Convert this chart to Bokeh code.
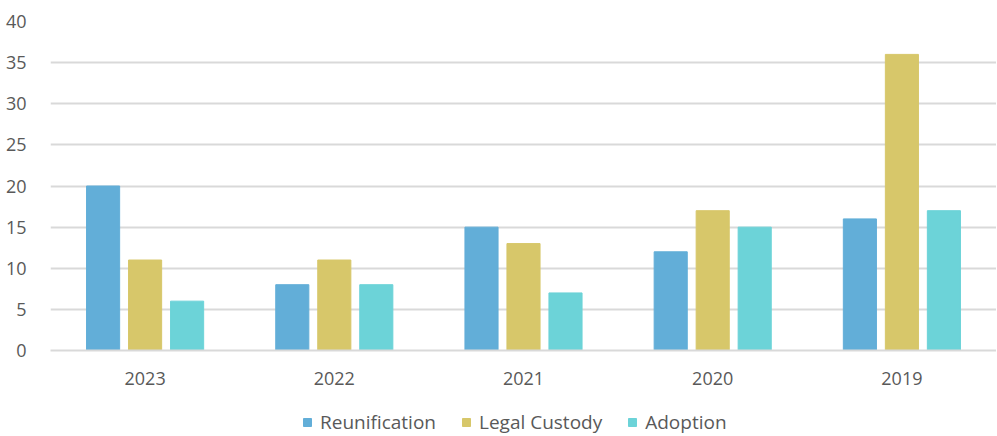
from bokeh.plotting import figure
from bokeh.models import FactorRange, Range1d, FixedTicker, Legend, LegendItem, ColumnDataSource
from bokeh.layouts import column
from bokeh.transform import dodge
from bokeh.embed import file_html
from bokeh.resources import INLINE

years = ["2023", "2022", "2021", "2020", "2019"]
reunification = [20, 8, 15, 12, 16]
legal_custody = [11, 11, 13, 17, 36]
adoption = [6, 8, 7, 15, 17]
series_names = ["Reunification", "Legal Custody", "Adoption"]
colors = ["#62AED8", "#D7C76A", "#6CD3D8"]
y_ticks = [0, 5, 10, 15, 20, 25, 30, 35, 40]

src = ColumnDataSource(dict(year=years, r=reunification, l=legal_custody, a=adoption))

FONT = "Open Sans"
GRAY = "#595959"
W = 996

p = figure(x_range=FactorRange(factors=years, range_padding=0), y_range=Range1d(0, 40),
           width=W, height=395, output_backend="svg", toolbar_location=None,
           min_border_left=50, min_border_right=0, min_border_top=21, min_border_bottom=45)
p.outline_line_color = None

for key, off, col in zip(["r", "l", "a"], [-0.222, 0.0, 0.222], colors):
    p.vbar(x=dodge("year", off, range=p.x_range), top=key, width=0.175, source=src,
           fill_color=col, line_color=col, line_width=1)

p.xgrid.grid_line_color = None
p.ygrid.grid_line_color = "#D9D9D9"
p.ygrid.grid_line_width = 2
p.yaxis.ticker = FixedTicker(ticks=y_ticks)
p.yaxis.axis_line_color = None
p.yaxis.major_tick_line_color = None
p.yaxis.minor_tick_line_color = None
p.yaxis.major_label_text_font = FONT
p.yaxis.major_label_text_font_size = "18px"
p.yaxis.major_label_text_color = GRAY
p.yaxis.major_label_standoff = 18

p.xaxis.axis_line_color = "#D9D9D9"
p.xaxis.axis_line_width = 2
p.xaxis.major_tick_line_color = None
p.xaxis.minor_tick_line_color = None
p.xaxis.major_label_text_font = FONT
p.xaxis.major_label_text_font_size = "18px"
p.xaxis.major_label_text_color = GRAY
p.xaxis.major_label_standoff = 15

# legend strip
lg = figure(x_range=Range1d(0, 1), y_range=Range1d(0, 1), width=W, height=40,
            output_backend="svg", toolbar_location=None,
            x_axis_location=None, y_axis_location=None,
            min_border_left=0, min_border_right=0, min_border_top=0, min_border_bottom=0)
lg.grid.grid_line_color = None
lg.outline_line_color = None
items = []
for name, col in zip(series_names, colors):
    r = lg.quad(left=[-10], right=[-9], bottom=[-10], top=[-9], fill_color=col, line_color=col)
    items.append(LegendItem(label=name, renderers=[r]))
legend = Legend(items=items, orientation="horizontal", location=(252, 0),
                label_text_font=FONT, label_text_font_size="19px", label_text_color=GRAY,
                glyph_width=10, glyph_height=10, spacing=25, label_standoff=8,
                border_line_color=None, background_fill_alpha=0, padding=0, margin=0)
lg.add_layout(legend, "center")

layout = column(p, lg, spacing=0)
open("out.html", "w").write(file_html(layout, INLINE))
